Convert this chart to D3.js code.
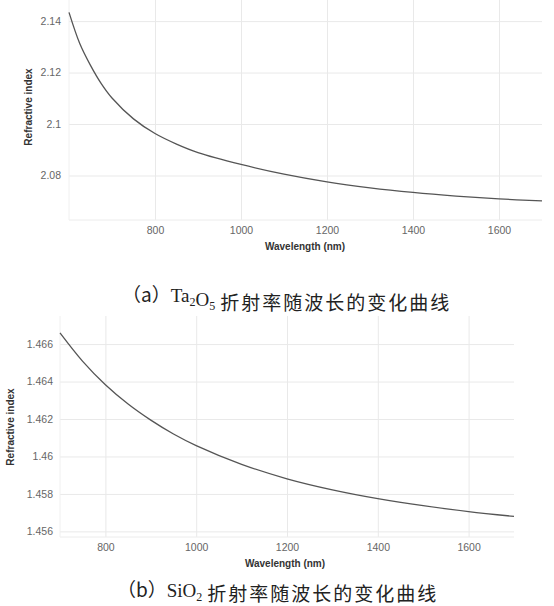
<!DOCTYPE html>
<html>
<head>
<meta charset="utf-8">
<script src="https://cdn.jsdelivr.net/npm/d3@7"></script>
<style>
  html, body { margin: 0; padding: 0; background: #fff; }
  svg { display: block; }
  .tick text { font-family: "Liberation Sans", Arial, sans-serif; font-size: 10.5px; fill: #666; }
  .axis-title { font-family: "Liberation Sans", Arial, sans-serif; font-size: 10px; font-weight: bold; fill: #333; }
  .caption { font-size: 19px; fill: #222; }
</style>
</head>
<body>
<div id="chart"></div>
<script>
// Ta2O5 refractive index vs wavelength (panel a)
const taWavelength = [600, 625, 650, 675, 700, 750, 800, 850, 900, 1000, 1100, 1200, 1300, 1400, 1500, 1600, 1700];
const taIndex = [2.1434, 2.1313, 2.1228, 2.1157, 2.1101, 2.1020, 2.0963, 2.0922, 2.0889, 2.0843, 2.0805, 2.0775, 2.0752, 2.0734, 2.0720, 2.0709, 2.0701];
const taYTicks = [2.08, 2.1, 2.12, 2.14];

// SiO2 refractive index vs wavelength (panel b)
const siWavelength = [700, 750, 800, 850, 900, 950, 1000, 1100, 1200, 1300, 1400, 1500, 1600, 1700];
const siIndex = [1.4666, 1.46508, 1.46383, 1.4628, 1.46194, 1.4612, 1.46058, 1.45958, 1.45881, 1.45822, 1.45775, 1.45737, 1.45706, 1.4568];
const siYTicks = [1.456, 1.458, 1.46, 1.462, 1.464, 1.466];

const xTicks = [800, 1000, 1200, 1400, 1600];

const W = 554, H = 606;
const svg = d3.select('#chart').append('svg')
    .attr('width', W)
    .attr('height', H);

function drawPanel(opts) {
    const x = d3.scaleLinear().domain(opts.xDomain).range([opts.left, opts.right]);
    const y = d3.scaleLinear().domain(opts.yDomain).range([opts.bottom, opts.top]);
    const g = svg.append('g');

    // grid
    g.append('g')
        .attr('transform', `translate(0,${opts.bottom})`)
        .call(d3.axisBottom(x).tickValues(xTicks).tickSize(-(opts.bottom - opts.top)).tickFormat(''))
        .call(s => s.select('.domain').remove())
        .call(s => s.selectAll('line').attr('stroke', '#e9e9e9'));
    g.append('g')
        .attr('transform', `translate(${opts.left},0)`)
        .call(d3.axisLeft(y).tickValues(opts.yTicks).tickSize(-(opts.right - opts.left)).tickFormat(''))
        .call(s => s.select('.domain').remove())
        .call(s => s.selectAll('line').attr('stroke', '#e9e9e9'));
    g.append('line')
        .attr('x1', opts.left).attr('x2', opts.right)
        .attr('y1', opts.bottom).attr('y2', opts.bottom)
        .attr('stroke', '#ececec');
    g.append('line')
        .attr('x1', opts.left).attr('x2', opts.left)
        .attr('y1', opts.top).attr('y2', opts.bottom)
        .attr('stroke', '#f0f0f0');

    // tick labels
    g.append('g')
        .attr('transform', `translate(0,${opts.bottom})`)
        .call(d3.axisBottom(x).tickValues(xTicks).tickSize(0).tickPadding(7).tickFormat(d3.format('d')))
        .call(s => s.select('.domain').remove());
    g.append('g')
        .attr('transform', `translate(${opts.left},0)`)
        .call(d3.axisLeft(y).tickValues(opts.yTicks).tickSize(0).tickPadding(opts.yPad).tickFormat(d3.format('~f')))
        .call(s => s.select('.domain').remove());

    // curve
    const pts = opts.xs.map((v, i) => [v, opts.ys[i]]);
    g.append('path')
        .datum(pts)
        .attr('fill', 'none')
        .attr('stroke', '#555')
        .attr('stroke-width', 1.3)
        .attr('d', d3.line().x(d => x(d[0])).y(d => y(d[1])).curve(d3.curveCatmullRom));

    // axis titles
    g.append('text')
        .attr('class', 'axis-title')
        .attr('text-anchor', 'middle')
        .attr('x', opts.xTitleX)
        .attr('y', opts.bottom + 30)
        .text('Wavelength (nm)');
    g.append('text')
        .attr('class', 'axis-title')
        .attr('text-anchor', 'middle')
        .attr('transform', `translate(${opts.yTitleX},${opts.yTitleY}) rotate(-90)`)
        .text('Refractive index');

    // caption
    const cap = g.append('text')
        .attr('class', 'caption')
        .attr('x', opts.capX)
        .attr('y', opts.capY);
    cap.append('tspan').attr('font-family', '"Noto Sans CJK SC", sans-serif').text('（' + opts.letter + '）');
    opts.formula.forEach(part => {
        if (part.sub) {
            cap.append('tspan')
                .attr('font-family', '"Liberation Serif", serif')
                .attr('font-size', '12px')
                .attr('dy', 4)
                .text(part.t);
            cap.append('tspan').attr('dy', -4).text('');
        } else {
            cap.append('tspan')
                .attr('font-family', '"Liberation Serif", serif')
                .text(part.t);
        }
    });
    cap.append('tspan')
        .attr('font-family', '"Noto Sans CJK SC", sans-serif')
        .attr('letter-spacing', '2px')
        .attr('dx', 5)
        .text('折射率随波长的变化曲线');
}

drawPanel({
    xs: taWavelength, ys: taIndex, yTicks: taYTicks,
    xDomain: [600, 1700], yDomain: [2.0627, 2.1482],
    left: 69, right: 542, top: 0, bottom: 220, yPad: 8,
    xTitleX: 305, yTitleX: 32, yTitleY: 107,
    letter: 'a', formula: [{t: 'Ta'}, {t: '2', sub: true}, {t: 'O'}, {t: '5', sub: true}],
    capX: 122, capY: 302
});

drawPanel({
    xs: siWavelength, ys: siIndex, yTicks: siYTicks,
    xDomain: [700, 1700], yDomain: [1.4557, 1.4675],
    left: 60, right: 514, top: 316, bottom: 537, yPad: 7,
    xTitleX: 285, yTitleX: 14, yTitleY: 427,
    letter: 'b', formula: [{t: 'SiO'}, {t: '2', sub: true}],
    capX: 117, capY: 597
});
</script>
</body>
</html>
